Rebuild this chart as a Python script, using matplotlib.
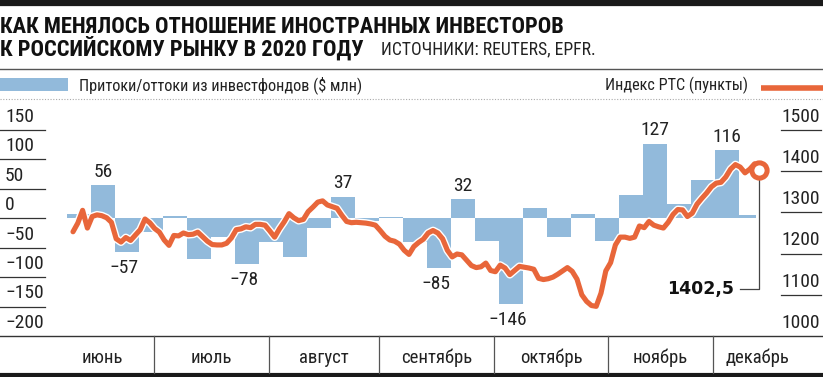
import matplotlib
matplotlib.use("Agg")
import matplotlib.pyplot as plt
import matplotlib.patheffects as pe
from matplotlib import font_manager as fm
from matplotlib.transforms import blended_transform_factory

# ---------------- data ----------------
# weekly flows into funds ($ mln)
flows = [8, 56, -57, -24, 4, -70, -32, -78, -41, -65,
         -17, 37, -4, 3, -41, -85, 32, -39, -146, 17,
         -31, 7, -39, 39, 127, 24, 65, 116, 6]
labeled_bars = [1, 2, 7, 11, 15, 16, 18, 24, 27]

# RTS index, daily trading closes (points)
rts = [1253, 1274, 1305, 1262, 1290, 1294, 1292, 1287, 1276, 1236,
       1228, 1239, 1232, 1245, 1258, 1284, 1275, 1261, 1252, 1233,
       1220, 1244, 1243, 1250, 1246, 1247, 1252, 1241, 1230, 1222,
       1221, 1221, 1225, 1238, 1258, 1260, 1265, 1263, 1271, 1271,
       1269, 1255, 1240, 1260, 1277, 1297, 1287, 1280, 1283, 1302,
       1313, 1325, 1328, 1318, 1314, 1310, 1293, 1278, 1275, 1276,
       1275, 1274, 1272, 1269, 1256, 1242, 1233, 1230, 1223, 1208,
       1198, 1217, 1227, 1235, 1250, 1256, 1250, 1236, 1208, 1192,
       1199, 1197, 1184, 1171, 1166, 1168, 1177, 1159, 1156, 1172,
       1165, 1149, 1159, 1169, 1167, 1165, 1162, 1140, 1137, 1139,
       1143, 1150, 1158, 1166, 1157, 1138, 1100, 1084, 1074, 1072,
       1104, 1158, 1178, 1221, 1240, 1240, 1237, 1240, 1267, 1263,
       1278, 1269, 1265, 1262, 1276, 1295, 1307, 1306, 1290, 1298,
       1320, 1334, 1347, 1362, 1371, 1373, 1386, 1405, 1416, 1410,
       1396, 1405, 1418, 1402.5]

months = ["июнь", "июль", "август", "сентябрь", "октябрь", "ноябрь", "декабрь"]
# month boundaries in weeks from the first bar
month_edges = [-0.7, 3.625, 8.417, 13.0, 17.79, 22.54, 26.92, 30.58]

left_ticks = [150, 100, 50, 0, -50, -100, -150, -200]
right_ticks = [1500, 1400, 1300, 1200, 1100, 1000]

title1 = "КАК МЕНЯЛОСЬ ОТНОШЕНИЕ ИНОСТРАННЫХ ИНВЕСТОРОВ"
title2 = "К РОССИЙСКОМУ РЫНКУ В 2020 ГОДУ"
source = "ИСТОЧНИКИ: REUTERS, EPFR."
legend_bar = "Притоки/оттоки из инвестфондов ($ млн)"
legend_line = "Индекс РТС (пункты)"
last_label = "1402,5"

# ---------------- style ----------------
BLUE = "#92badb"
ORANGE = "#e8663a"
TXT = "#222222"

names = {f.name for f in fm.fontManager.ttflist}
NARROW = [n for n in ["Roboto Condensed", "PT Sans Narrow", "Liberation Sans Narrow"] if n in names] + ["DejaVu Sans"]

W, H = 823, 377
fig = plt.figure(figsize=(W / 100, H / 100), dpi=100)


def fx(x):
    return x / W


def fy(y):
    return 1 - y / H


# top bar, separators
fig.add_artist(plt.Line2D([0, 1], [fy(3), fy(3)], color="#1a1a1a", lw=4.5))
fig.add_artist(plt.Line2D([0, 1], [fy(68.5), fy(68.5)], color="#555555", lw=1.0))
fig.add_artist(plt.Line2D([0, 1], [fy(99), fy(99)], color="#aaaaaa", lw=0.8, ls=(0, (1, 1.5))))
fig.add_artist(plt.Line2D([0, 1], [fy(374.5), fy(374.5)], color="#1a1a1a", lw=3))

fig.text(fx(0), fy(33), title1, fontsize=16.2, fontweight="bold", family=NARROW, color="#111111", va="baseline")
fig.text(fx(0), fy(56), title2, fontsize=16.2, fontweight="bold", family=NARROW, color="#111111", va="baseline")
fig.text(fx(381), fy(54), source, fontsize=12.7, family=NARROW, color=TXT, va="baseline")

# legend
fig.add_artist(plt.Rectangle((fx(0), fy(91)), fx(68), (91 - 78) / H, color=BLUE, lw=0))
fig.text(fx(79), fy(85.5), legend_bar, fontsize=11.7, family=NARROW, color=TXT, va="center")
fig.text(fx(748), fy(85.5), legend_line, fontsize=11.7, family=NARROW, color=TXT, va="center", ha="right")
fig.add_artist(plt.Line2D([fx(761), fx(823)], [fy(88), fy(88)], color=ORANGE, lw=4, solid_capstyle="butt"))

# main axes
top_px, bot_px = 105, 336
ax = fig.add_axes([0, fy(bot_px), 1, (bot_px - top_px) / H])
x0_px, wk_px = 67, 24
ax.set_xlim(-x0_px / wk_px, (W - x0_px) / wk_px)
px_per_unit = (bot_px - 130) / 350.0
ax.set_ylim(-200, -200 + (bot_px - top_px) / px_per_unit)
ax2 = ax.twinx()
rpx = (bot_px - 130) / 500.0
ax2.set_ylim(1000, 1000 + (bot_px - top_px) / rpx)
for a in (ax, ax2):
    a.set_facecolor("none")
    for s in a.spines.values():
        s.set_visible(False)
    a.set_xticks([])
    a.set_yticks([])
ax.patch.set_visible(False)

# bars
xs = list(range(len(flows)))
widths = [1.0] * (len(flows) - 1) + [0.72]
ax.bar(xs, flows, width=widths, align="edge", color=BLUE, lw=0, zorder=1)
for i in labeled_bars:
    v = flows[i]
    txt = str(v).replace("-", "\u2212")
    if v > 0:
        ax.annotate(txt, (i + 0.5, v), xytext=(0, 3), textcoords="offset points",
                    ha="center", va="bottom", fontsize=14, family=NARROW, color=TXT)
    else:
        ax.annotate(txt, (i + 0.5, v), xytext=(-2, -5), textcoords="offset points",
                    ha="center", va="top", fontsize=14, family=NARROW, color=TXT)

# line
lx = [0.25 + 0.2 * k for k in range(len(rts))]
ax2.plot(lx, rts, color=ORANGE, lw=3.7, solid_joinstyle="round", solid_capstyle="round", zorder=3,
         path_effects=[pe.withStroke(linewidth=5.7, foreground="white")])

# connector + final value
lab_y = 1114
ax2.plot([lx[-1] - 0.8, lx[-1], lx[-1]], [lab_y, lab_y, rts[-1]], color="#444444", lw=0.9, zorder=2.5)
ax2.plot([lx[-1]], [rts[-1]], "o", ms=11, mfc="white", mec=ORANGE, mew=3.6, zorder=4)
ax2.text(lx[-1] - 1.05, lab_y, last_label, ha="right", va="center", fontsize=12.5,
         fontweight="bold", family="DejaVu Sans", color="#111111")

# left ticks
tl = blended_transform_factory(ax.transAxes, ax.transData)
for t in left_ticks:
    if t != -200:
        ax.plot([0, 45 / W], [t, t], color="#333333", lw=0.9, transform=tl, clip_on=False)
    ax.annotate(str(t).replace("-", "\u2212"), (5 / W, t), xycoords=tl, xytext=(0, 3),
                textcoords="offset points", ha="left", va="bottom", fontsize=14,
                family=NARROW, color=TXT)

tr = blended_transform_factory(ax2.transAxes, ax2.transData)
for t in right_ticks:
    if t != 1000:
        ax2.plot([781 / W, 821 / W], [t, t], color="#333333", lw=0.9, transform=tr, clip_on=False)
    ax2.annotate(str(t), (820 / W, t), xycoords=tr, xytext=(0, 3),
                 textcoords="offset points", ha="right", va="bottom", fontsize=14,
                 family=NARROW, color=TXT)

# bottom axis line and months
fig.add_artist(plt.Line2D([0, 1], [fy(336), fy(336)], color="#333333", lw=1.0))
tb = blended_transform_factory(ax.transData, fig.transFigure)
for e in month_edges[1:-1]:
    fig.add_artist(plt.Line2D([e, e], [fy(336), fy(373)], color="#555555", lw=0.9, transform=tb))
for m, a, b in zip(months, month_edges[:-1], month_edges[1:]):
    fig.text((a + b) / 2, fy(358), m, transform=tb, ha="center", va="center",
             fontsize=13.5, family=NARROW, color=TXT)

fig.savefig("out.png", dpi=100)
